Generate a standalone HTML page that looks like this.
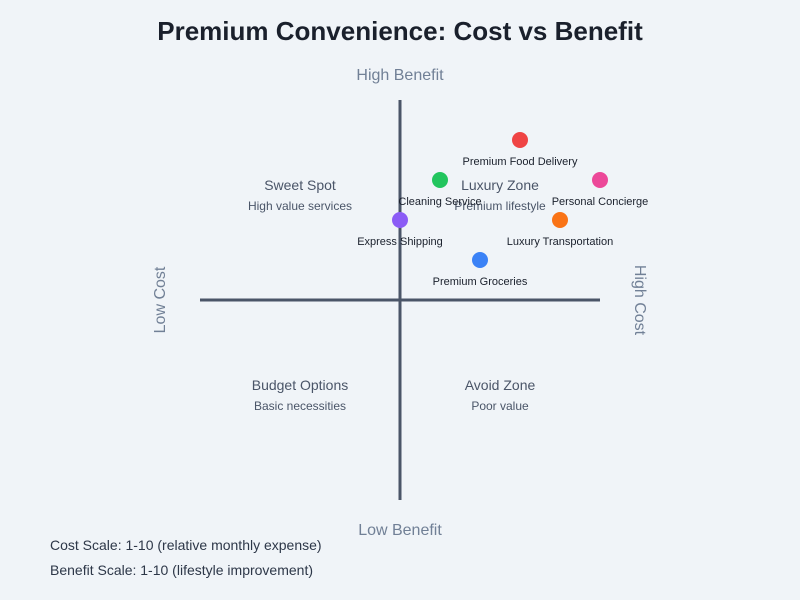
<!DOCTYPE html>
<html><head><meta charset="utf-8"><style>
html,body{margin:0;padding:0;background:#f0f4f8;}
svg{display:block;font-family:"Liberation Sans",Arial,sans-serif;}
</style></head><body>
<svg width="800" height="600" viewBox="0 0 800 600">
<rect width="800" height="600" fill="#f0f4f8"/>
<text x="400" y="40" text-anchor="middle" font-size="26" font-weight="bold" fill="#1a202c">Premium Convenience: Cost vs Benefit</text>
<line x1="200" y1="300" x2="600" y2="300" stroke="#4a5568" stroke-width="3"/>
<line x1="400" y1="100" x2="400" y2="500" stroke="#4a5568" stroke-width="3"/>
<g fill="#718096" font-size="16" text-anchor="middle">
<text x="400" y="80">High Benefit</text>
<text x="400" y="535">Low Benefit</text>
<text transform="translate(165,300) rotate(-90)">Low Cost</text>
<text transform="translate(635,300) rotate(90)">High Cost</text>
</g>
<g fill="#4a5568" text-anchor="middle">
<text x="300" y="190" font-size="14">Sweet Spot</text>
<text x="300" y="210" font-size="12">High value services</text>
<text x="500" y="190" font-size="14">Luxury Zone</text>
<text x="500" y="210" font-size="12">Premium lifestyle</text>
<text x="300" y="390" font-size="14">Budget Options</text>
<text x="300" y="410" font-size="12">Basic necessities</text>
<text x="500" y="390" font-size="14">Avoid Zone</text>
<text x="500" y="410" font-size="12">Poor value</text>
</g>
<circle cx="520" cy="140" r="8" fill="#ef4444"/>
<circle cx="440" cy="180" r="8" fill="#22c55e"/>
<circle cx="600" cy="180" r="8" fill="#ec4899"/>
<circle cx="400" cy="220" r="8" fill="#8b5cf6"/>
<circle cx="560" cy="220" r="8" fill="#f97316"/>
<circle cx="480" cy="260" r="8" fill="#3b82f6"/>
<g fill="#1a202c" font-size="11" text-anchor="middle">
<text x="520" y="165">Premium Food Delivery</text>
<text x="440" y="205">Cleaning Service</text>
<text x="600" y="205">Personal Concierge</text>
<text x="400" y="245">Express Shipping</text>
<text x="560" y="245">Luxury Transportation</text>
<text x="480" y="285">Premium Groceries</text>
</g>
<g fill="#2d3748" font-size="14">
<text x="50" y="550">Cost Scale: 1-10 (relative monthly expense)</text>
<text x="50" y="575">Benefit Scale: 1-10 (lifestyle improvement)</text>
</g>
</svg>
</body></html>
